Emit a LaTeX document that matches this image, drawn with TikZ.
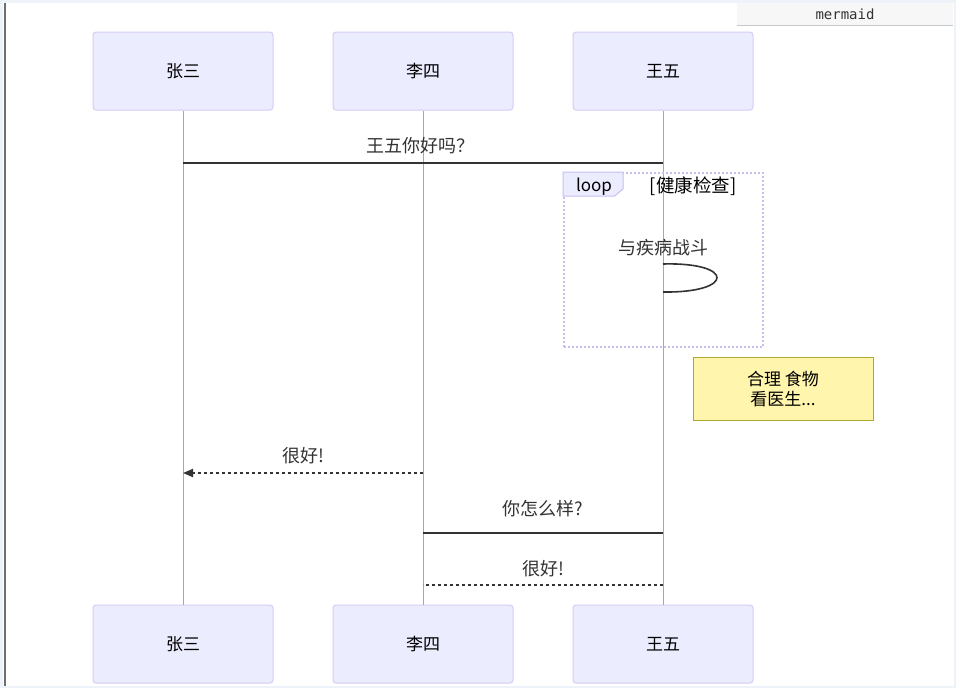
\documentclass[tikz,border=0pt]{standalone}
\usepackage{fontspec}
\setmainfont{Noto Sans CJK SC}
\newfontfamily\mermaidmono{DejaVu Sans Mono}
\usetikzlibrary{arrows.meta}
\definecolor{actfill}{HTML}{ECECFF}
\definecolor{actline}{HTML}{D7CCF2}
\definecolor{loopline}{HTML}{C8BEF0}
\definecolor{lifegray}{HTML}{A8A8A8}
\definecolor{sig}{HTML}{333333}
\definecolor{notefill}{HTML}{FFF5AD}
\definecolor{noteline}{HTML}{AAAA33}
\definecolor{pagebg}{HTML}{EEF3FA}
\definecolor{tabfill}{HTML}{F7F7F7}
\definecolor{tabshadow}{HTML}{C4C8CC}
\definecolor{edgegray}{HTML}{6E6E6E}
\begin{document}
\begin{tikzpicture}[x=1pt,y=-1pt,
  actor/.style={draw=actline, fill=actfill, rounded corners=3pt, minimum width=180pt,
    minimum height=78pt, inner sep=0pt, line width=1pt, font=\fontsize{17}{20}\selectfont},
  life/.style={draw=lifegray, line width=0.9pt},
  msg/.style={draw=sig, line width=1.8pt},
  reply/.style={msg, dash pattern=on 3pt off 3pt},
  msglabel/.style={font=\fontsize{18}{21}\selectfont, text=sig, inner sep=0pt},
  loopframe/.style={draw=loopline, line width=2pt, dash pattern=on 2pt off 2pt,
    minimum width=199pt, minimum height=174pt, inner sep=0pt},
  looptext/.style={font=\fontsize{17}{20}\selectfont, text=black, inner sep=0pt},
  notebox/.style={draw=noteline, fill=notefill, line width=1pt, minimum width=180pt,
    minimum height=63pt, inner sep=0pt, align=center, font=\fontsize{17}{20}\selectfont}
]
\useasboundingbox (0,0) rectangle (956,688);
% page frame
\fill[pagebg] (0,0) rectangle (956,688);
\fill[white] (3,3) rectangle (954,686);
\draw[edgegray, line width=1.3pt] (5,3) -- (5,686);
% mermaid tab
\node[fill=tabfill, minimum width=216pt, minimum height=22pt, inner sep=0pt,
  font=\mermaidmono\fontsize{14}{16}\selectfont, text=black!80] (tab) at (845,14) {mermaid};
\draw[tabshadow, line width=1.2pt] (tab.south west) -- (tab.south east);

% actors
\node[actor] (zs) at (183,71) {张三};
\node[actor] (ls) at (423,71) {李四};
\node[actor] (ww) at (663,71) {王五};
\node[actor] (zsb) at (183,644) {张三};
\node[actor] (lsb) at (423,644) {李四};
\node[actor] (wwb) at (663,644) {王五};

% lifelines
\draw[life] (zs) -- (zsb);
\draw[life] (ls) -- (lsb);
\draw[life] (ww) -- (wwb);

% message 1
\coordinate (m1a) at (183,163);
\coordinate (m1b) at (663,163);
\draw[msg] (m1a) -- (m1b);
\node[msglabel] (l1) at (420,146) {王五你好吗？};

% loop frame
\node[loopframe] (loopbox) at (663.5,260) {};
\draw[draw=loopline, fill=actfill, line width=1pt]
  (loopbox.north west) -- ++(60,0) -- ++(0,17) -- ++(-8.4,7) -- ++(-51.6,0) -- cycle;
\node[looptext] (looplbl) at (594,187) {loop};
\node[looptext, font=\fontsize{18.5}{21}\selectfont] (loopcond) at (693,186) {[健康检查]};

% self message
\node[msglabel] (l2) at (663,248) {与疾病战斗};
\coordinate (s1) at (663,264);
\coordinate (s2) at (663,292);
\draw[msg, line width=1.6pt] (s1) .. controls (735,262) and (735,293) .. (s2);

% note
\node[notebox] (note) at (783,388.5) {合理 食物\\看医生...};

% reply 1
\coordinate (m3a) at (423,473);
\coordinate (m3b) at (183,473);
\draw[reply, -{Triangle[length=10pt,width=8pt]}] (m3a) -- (m3b);
\node[msglabel] (l3) at (303,456) {很好!};

% message 4
\coordinate (m4a) at (663,533);
\coordinate (m4b) at (423,533);
\draw[msg] (m4a) -- (m4b);
\node[msglabel] (l4) at (543,509) {你怎么样?};

% reply 2
\coordinate (m5a) at (663,585);
\coordinate (m5b) at (423,585);
\draw[reply] (m5a) -- (m5b);
\node[msglabel] (l5) at (543,569) {很好!};
\end{tikzpicture}
\end{document}
